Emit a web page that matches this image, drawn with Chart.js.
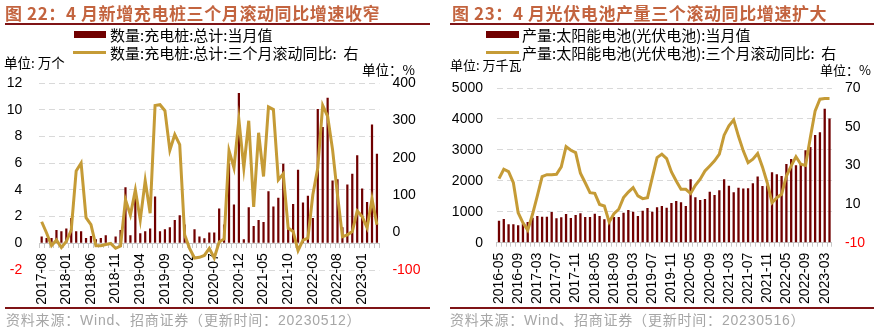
<!DOCTYPE html>
<html>
<head>
<meta charset="utf-8">
<script src="https://cdn.jsdelivr.net/npm/chart.js@4.4.0/dist/chart.umd.min.js"></script>
<style>
  body { margin: 0; width: 877px; height: 328px; position: relative; background: #fff; overflow: hidden;
         font-family: "Liberation Sans", "Noto Sans CJK SC", sans-serif; }
  canvas { position: absolute; top: 0; }
  .t { position: absolute; white-space: nowrap; line-height: 1; }
  .title { font-family: "Noto Sans CJK SC"; font-weight: bold; font-size: 17px; letter-spacing: 0.6px; color: #C3643F; }
  .rule { position: absolute; height: 2px; background: #7F1416; }
  .src { font-size: 14px; letter-spacing: 0.8px; color: #A6A6A6; }
  .leg { font-family: "Noto Sans CJK SC"; font-size: 15px; color: #000; }
  .unit { font-family: "Noto Sans CJK SC"; color: #000; }
  .box { position: absolute; }
</style>
</head>
<body>
<canvas id="cpChart" width="437" height="328" style="left:0"></canvas>
<canvas id="pvChart" width="440" height="328" style="left:437px"></canvas>

<div class="t title" style="left:5px; top:4px">图 22：4 月新增充电桩三个月滚动同比增速收窄</div>
<div class="rule" style="left:5px; top:23px; width:425px"></div>
<div class="box" style="left:74px; top:31px; width:32px; height:7px; background:#700000"></div>
<div class="t leg" style="left:110px; top:27px">数量:充电桩:总计:当月值</div>
<div class="box" style="left:73px; top:50.5px; width:33px; height:3px; background:#C59B36"></div>
<div class="t leg" style="left:110px; top:44.5px">数量:充电桩:总计:三个月滚动同比:&nbsp; 右</div>
<div class="t unit" style="left:4px; top:56px; font-size:13.5px">单位: 万个</div>
<div class="t unit" style="left:362px; top:63px; font-size:13.5px">单位：%</div>
<div class="rule" style="left:5px; top:306.5px; width:425px"></div>
<div class="t src" style="left:6px; top:313px">资料来源：Wind、招商证券（更新时间：20230512）</div>

<div class="t title" style="left:452px; top:4px">图 23：4 月光伏电池产量三个滚动同比增速扩大</div>
<div class="rule" style="left:450px; top:23px; width:424px"></div>
<div class="box" style="left:486px; top:31px; width:33px; height:7px; background:#700000"></div>
<div class="t leg" style="left:522px; top:27px">产量:太阳能电池(光伏电池):当月值</div>
<div class="box" style="left:486px; top:50.5px; width:33px; height:3px; background:#C59B36"></div>
<div class="t leg" style="left:522px; top:44.5px">产量:太阳能电池(光伏电池):三个月滚动同比:&nbsp; 右</div>
<div class="t unit" style="left:450px; top:57.5px; font-size:13px">单位: 万千瓦</div>
<div class="t unit" style="left:820px; top:62.5px; font-size:13px">单位：%</div>
<div class="rule" style="left:450px; top:307px; width:424px"></div>
<div class="t src" style="left:450px; top:313px">资料来源：Wind、招商证券（更新时间：20230516）</div>

<script>
// charging piles, monthly (10k units) and 3-month rolling yoy (%)
const cpMonths = (
  '2017-08 2017-09 2017-10 2017-11 2017-12 ' +
  '2018-01 2018-02 2018-03 2018-04 2018-05 2018-06 2018-07 2018-08 2018-09 2018-10 2018-11 2018-12 ' +
  '2019-01 2019-02 2019-03 2019-04 2019-05 2019-06 2019-07 2019-08 2019-09 2019-10 2019-11 2019-12 ' +
  '2020-01 2020-02 2020-03 2020-04 2020-05 2020-06 2020-07 2020-08 2020-09 2020-10 2020-11 2020-12 ' +
  '2021-01 2021-02 2021-03 2021-04 2021-05 2021-06 2021-07 2021-08 2021-09 2021-10 2021-11 2021-12 ' +
  '2022-01 2022-02 2022-03 2022-04 2022-05 2022-06 2022-07 2022-08 2022-09 2022-10 2022-11 2022-12 ' +
  '2023-01 2023-02 2023-03 2023-04').split(' ');
const cpTicks = ['2017-08', '2018-01', '2018-06', '2018-11', '2019-04', '2019-09', '2020-02',
                 '2020-07', '2020-12', '2021-05', '2021-10', '2022-03', '2022-08', '2023-01'];
const cpMonthly = [0.5, 0.4, 0.4, 1.0, 0.9, 1.1, 1.9, 0.9, 0.9, 0.4,
                   0.55, 0.3, 0.4, 0.6, null, 0.5, 1.0, 4.2, 0.6, 3.5,
                   0.75, 0.9, 1.1, 3.5, 0.9, 1.05, 1.2, 1.75, 2.1, 1.4,
                   null, 1.05, 0.5, 0.38, 0.8, 0.8, 2.6, 1.4, 6.0, 2.9,
                   11.25, 0.3, 2.7, 1.3, 1.75, 1.6, 3.9, 2.75, 3.4, 5.95,
                   1.05, 2.95, 5.5, 3.05, 3.55, 1.9, 10.05, 8.7, 10.9, 4.7,
                   4.8, 1.2, 4.4, 5.2, 6.6, 4.1, 3.1, 8.9, 6.7];
const cpYoy3m = [29, -1, -35, -20, -40, -24, 7, 165, 186, 40,
                 21, -35, -35, -32, -29, -42, -36, 88, 47, 114,
                 34, 139, 52, 340, 342, 326, 220, 262, 235, -6,
                 -42, -68, -66, -61, -42, -68, -25, -17, 219, 173,
                 302, 173, 299, 69, 267, 150, 336, 329, 141, 157,
                 12, 3, -48, -20, -15, 101, 173, 340, 311, 222,
                 101, -11, -6, 3, 58, 43, 13, 90, 21];

// solar cells, monthly output (10k kW) and 3-month rolling yoy (%)
const pvMonths = (
  '2016-05 2016-06 2016-07 2016-08 2016-09 2016-10 2016-11 2016-12 ' +
  '2017-03 2017-04 2017-05 2017-06 2017-07 2017-08 2017-09 2017-10 2017-11 2017-12 ' +
  '2018-03 2018-04 2018-05 2018-06 2018-07 2018-08 2018-09 2018-10 2018-11 2018-12 ' +
  '2019-03 2019-04 2019-05 2019-06 2019-07 2019-08 2019-09 2019-10 2019-11 2019-12 ' +
  '2020-03 2020-04 2020-05 2020-06 2020-07 2020-08 2020-09 2020-10 2020-11 2020-12 ' +
  '2021-03 2021-04 2021-05 2021-06 2021-07 2021-08 2021-09 2021-10 2021-11 2021-12 ' +
  '2022-03 2022-04 2022-05 2022-06 2022-07 2022-08 2022-09 2022-10 2022-11 2022-12 ' +
  '2023-03 2023-04').split(' ');
const pvTicks = ['2016-05', '2016-09', '2017-03', '2017-07', '2017-11', '2018-05', '2018-09', '2019-03', '2019-07',
                 '2019-11', '2020-05', '2020-09', '2021-03', '2021-07', '2021-11', '2022-05', '2022-09', '2023-03'];
const pvMonthly = [712, 766, 593, 593, 561, 610, 670, 810, 863, 841,
                   841, 992, 787, 820, 928, 798, 895, 949, 830, 830,
                   938, 863, 755, 701, 830, 830, 971, 1057, 1003, 863,
                   1036, 1122, 1003, 1143, 1187, 1133, 1284, 1348, 1305, 1187,
                   2050, 1467, 1381, 1413, 1650, 1543, 1694, 2050, 1840, 1629,
                   1780, 1748, 1758, 1920, 2136, 1834, 1850, 2276, 2211, 2157,
                   2546, 2708, 2503, 2557, 2988, 3096, 3484, 3571, 4326, 4013];
const pvYoy3m = [23.1, 28, 26.8, 21, 5.5, 0.3, -3.5, 4.7, 14.2, 24.2,
                 25.2, 25.2, 25.4, 29.2, 39.7, 37.8, 36.6, 25.9, 21, 15.9,
                 15.5, 9.8, 9, 0.7, 5, 7.3, 13.3, 16.2, 18.5, 14.2,
                 12.8, 13.3, 23.7, 34, 35.8, 33.5, 26.6, 21.9, 17.6, 17.6,
                 15.5, 19.7, 22.8, 27.1, 29.7, 32.3, 35.8, 45.6, 50.4, 53.5,
                 45, 37.5, 31.4, 33.2, 36.1, 29.2, 21, 10.7, 13.3, 15,
                 24.5, 29.7, 34.5, 30.6, 30, 44.4, 58.2, 64.2, 64.6, 64.6];

const MAROON = '#700000';
const GOLD = '#C59B36';
const GRID = '#D9D9D9';
const AXIS = '#C8C8C8';
const tickFont = { family: 'Liberation Sans', size: 14 };
const redIfNegative = c => c.tick.value < 0 ? '#FF0000' : '#000';
const plain = v => String(v);

function monthTicks(shown) {
  return function (value) {
    const label = this.getLabelForValue(value);
    return shown.includes(label) ? label : '';
  };
}

// left: charging piles
new Chart(document.getElementById('cpChart'), {
  type: 'bar',
  data: {
    labels: cpMonths,
    datasets: [
      { type: 'line', label: '数量:充电桩:总计:三个月滚动同比: 右', data: cpYoy3m, yAxisID: 'y1',
        borderColor: GOLD, borderWidth: 3, pointRadius: 0, tension: 0, order: 0 },
      { type: 'bar', label: '数量:充电桩:总计:当月值', data: cpMonthly, yAxisID: 'y',
        backgroundColor: MAROON, barPercentage: 0.45, categoryPercentage: 1, order: 1 }
    ]
  },
  options: {
    responsive: false,
    animation: false,
    layout: { padding: { left: 0, right: 0, top: 83, bottom: 58 } },
    plugins: { legend: { display: false }, tooltip: { enabled: false } },
    scales: {
      x: {
        position: { y: 0 },
        offset: true,
        grid: { drawOnChartArea: false, tickLength: 4, color: AXIS, offset: true },
        border: { color: AXIS },
        ticks: { autoSkip: false, minRotation: 90, maxRotation: 90, padding: 6, font: tickFont, color: '#000',
                 callback: monthTicks(cpTicks) },
        afterFit: s => { s.height = 0; }
      },
      y: {
        position: 'left', min: -2, max: 12,
        ticks: { stepSize: 2, padding: 17, font: tickFont, color: redIfNegative, callback: plain },
        grid: { color: GRID, drawTicks: false },
        border: { display: false, dash: [6, 4] },
        afterFit: s => { s.width = 39.2; }
      },
      y1: {
        position: 'right', min: -100, max: 400,
        ticks: { stepSize: 100, padding: 13, font: tickFont, color: redIfNegative, callback: plain },
        grid: { drawOnChartArea: false, drawTicks: false },
        border: { display: false },
        afterFit: s => { s.width = 57.6; }
      }
    }
  }
});

// right: solar cells
new Chart(document.getElementById('pvChart'), {
  type: 'bar',
  data: {
    labels: pvMonths,
    datasets: [
      { type: 'line', label: '产量:太阳能电池(光伏电池):三个月滚动同比: 右', data: pvYoy3m, yAxisID: 'y1',
        borderColor: GOLD, borderWidth: 3, pointRadius: 0, tension: 0, order: 0 },
      { type: 'bar', label: '产量:太阳能电池(光伏电池):当月值', data: pvMonthly, yAxisID: 'y',
        backgroundColor: MAROON, barPercentage: 0.48, categoryPercentage: 1, order: 1 }
    ]
  },
  options: {
    responsive: false,
    animation: false,
    layout: { padding: { left: 0, right: 0, top: 88, bottom: 0 } },
    plugins: { legend: { display: false }, tooltip: { enabled: false } },
    scales: {
      x: {
        position: 'bottom',
        offset: true,
        grid: { drawOnChartArea: false, tickLength: 4, color: AXIS, offset: true },
        border: { color: AXIS },
        ticks: { autoSkip: false, minRotation: 90, maxRotation: 90, padding: 6, font: tickFont, color: '#000',
                 callback: monthTicks(pvTicks) },
        afterFit: s => { s.height = 85.3; }
      },
      y: {
        position: 'left', min: 0, max: 5000,
        ticks: { stepSize: 1000, padding: 13.6, font: tickFont, color: '#000', callback: plain },
        grid: { color: GRID, drawTicks: false },
        border: { display: false, dash: [6, 4] },
        afterFit: s => { s.width = 59.6; }
      },
      y1: {
        position: 'right', min: -10, max: 70,
        ticks: { stepSize: 10, padding: 13, font: tickFont, color: redIfNegative, callback: plain },
        grid: { drawOnChartArea: false, drawTicks: false },
        border: { display: false },
        afterFit: s => { s.width = 45.1; }
      }
    }
  }
});
</script>
</body>
</html>
